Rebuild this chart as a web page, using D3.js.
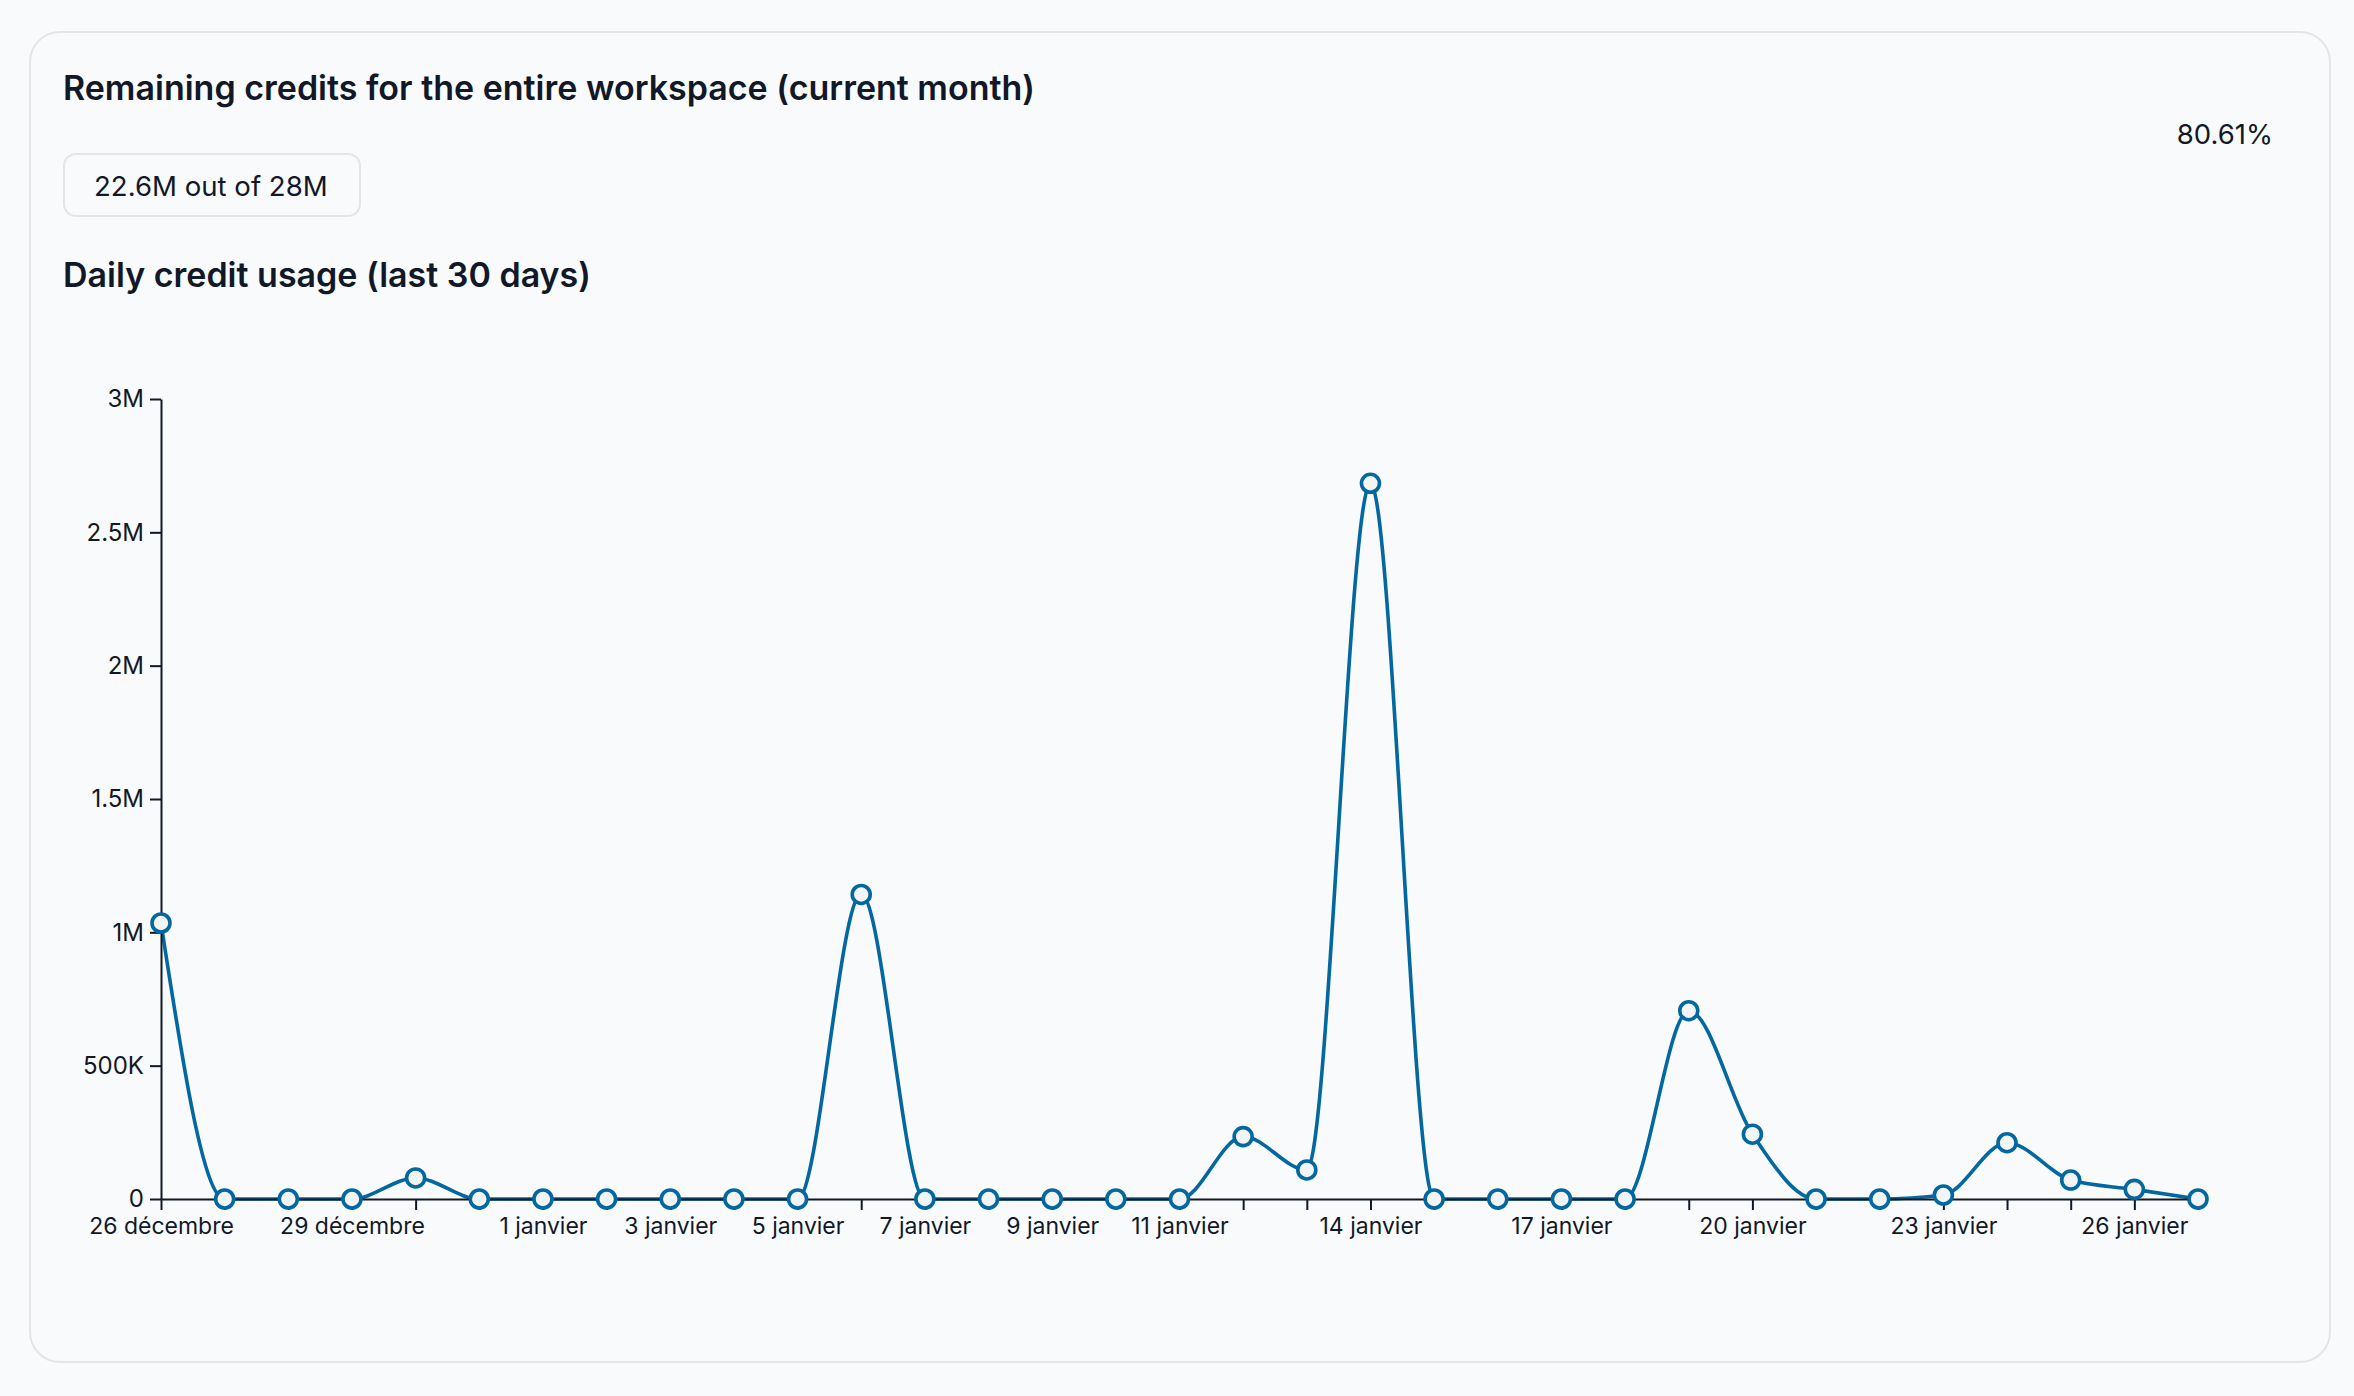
<!DOCTYPE html>
<html>
<head>
<meta charset="utf-8">
<script src="https://cdn.jsdelivr.net/npm/d3@7"></script>
<style>
	html, body { margin: 0; background: #f9fafb; }
	svg { display: block; font-family: Inter, 'Noto Sans', sans-serif; }
</style>
</head>
<body>
<svg id="chart" width="2354" height="1396"></svg>
<script>
'use strict'

// daily usage, 26 Dec -> 27 Jan
const days = [
	'2024-12-26', '2024-12-27', '2024-12-28', '2024-12-29', '2024-12-30', '2024-12-31',
	'2025-01-01', '2025-01-02', '2025-01-03', '2025-01-04', '2025-01-05', '2025-01-06',
	'2025-01-07', '2025-01-08', '2025-01-09', '2025-01-10', '2025-01-11', '2025-01-12',
	'2025-01-13', '2025-01-14', '2025-01-15', '2025-01-16', '2025-01-17', '2025-01-18',
	'2025-01-19', '2025-01-20', '2025-01-21', '2025-01-22', '2025-01-23', '2025-01-24',
	'2025-01-25', '2025-01-26', '2025-01-27'
]
const credits = [
	1035000, 0, 0, 0, 79000, 0,
	0, 0, 0, 0, 0, 1142000,
	0, 0, 0, 0, 0, 234000,
	109000, 2684000, 0, 0, 0, 0,
	706000, 243000, 0, 0, 15000, 211000,
	71000, 36000, 0
]
const labelDays = [
	'2024-12-26', '2024-12-29', '2025-01-01', '2025-01-03', '2025-01-05', '2025-01-07',
	'2025-01-09', '2025-01-11', '2025-01-14', '2025-01-17', '2025-01-20', '2025-01-23',
	'2025-01-26'
]
const yTicks = [0, 500000, 1000000, 1500000, 2000000, 2500000, 3000000]

const titleText = 'Remaining credits for the entire workspace (current month)'
const usedText = '22.6M out of 28M'
const percentText = '80.61%'
const subtitleText = 'Daily credit usage (last 30 days)'

const ink = '#111827'
const blue = '#03689f'

const fr = d3.timeFormatLocale({
	dateTime: '%A %e %B %Y à %X',
	date: '%d/%m/%Y',
	time: '%H:%M:%S',
	periods: ['AM', 'PM'],
	days: ['dimanche', 'lundi', 'mardi', 'mercredi', 'jeudi', 'vendredi', 'samedi'],
	shortDays: ['dim.', 'lun.', 'mar.', 'mer.', 'jeu.', 'ven.', 'sam.'],
	months: ['janvier', 'février', 'mars', 'avril', 'mai', 'juin', 'juillet', 'août', 'septembre', 'octobre', 'novembre', 'décembre'],
	shortMonths: ['janv.', 'févr.', 'mars', 'avr.', 'mai', 'juin', 'juil.', 'août', 'sept.', 'oct.', 'nov.', 'déc.']
})
const parse = d3.utcParse('%Y-%m-%d')
const fmtDay = fr.utcFormat('%-d %B')

const data = days.map((d, i) => ({date: parse(d), value: credits[i]}))
const labelSet = new Set(labelDays.map(d => +parse(d)))

const svg = d3.select('#chart')

// card
svg.append('rect')
	.attr('x', 30).attr('y', 32)
	.attr('width', 2300).attr('height', 1330)
	.attr('rx', 30)
	.attr('fill', '#f9fafb')
	.attr('stroke', '#e3e5ea')
	.attr('stroke-width', 2)

svg.append('text')
	.attr('x', 63).attr('y', 100)
	.attr('font-size', 34).attr('font-weight', 600)
	.attr('fill', ink)
	.text(titleText)

svg.append('rect')
	.attr('x', 64).attr('y', 154)
	.attr('width', 296).attr('height', 62)
	.attr('rx', 12)
	.attr('fill', '#f9fafb')
	.attr('stroke', '#e3e5ea')
	.attr('stroke-width', 2)

svg.append('text')
	.attr('x', 94).attr('y', 196)
	.attr('font-size', 27.6)
	.attr('fill', ink)
	.text(usedText)

svg.append('text')
	.attr('x', 2273).attr('y', 144)
	.attr('text-anchor', 'end')
	.attr('font-size', 27.5)
	.attr('fill', ink)
	.text(percentText)

svg.append('text')
	.attr('x', 63).attr('y', 287)
	.attr('font-size', 34).attr('font-weight', 600)
	.attr('fill', ink)
	.text(subtitleText)

// plot
const margin = {left: 161, top: 399}
const width = 2037
const height = 800

const x = d3.scaleUtc()
	.domain(d3.extent(data, d => d.date))
	.range([0, width])
const y = d3.scaleLinear()
	.domain([0, 3000000])
	.range([height, 0])

const fmtCredits = (v) => {
	if (v === 0) return '0'
	if (v >= 1e6) return `${v / 1e6}M`
	return `${v / 1e3}K`
}

const plot = svg.append('g')
	.attr('transform', `translate(${margin.left}, ${margin.top})`)

const line = d3.line()
	.x(d => x(d.date))
	.y(d => y(d.value))
	.curve(d3.curveMonotoneX)

plot.append('path')
	.datum(data)
	.attr('fill', 'none')
	.attr('stroke', blue)
	.attr('stroke-width', 3.6)
	.attr('d', line)

const xAxis = plot.append('g')
	.attr('transform', `translate(0, ${height})`)
	.attr('color', ink)
	.call(d3.axisBottom(x)
		.tickValues(data.map(d => d.date))
		.tickSize(11)
		.tickSizeOuter(0)
		.tickPadding(8)
		.tickFormat(d => labelSet.has(+d) ? fmtDay(d) : ''))

const yAxis = plot.append('g')
	.attr('color', ink)
	.call(d3.axisLeft(y)
		.tickValues(yTicks)
		.tickSize(11)
		.tickSizeOuter(0)
		.tickPadding(6)
		.tickFormat(fmtCredits))

xAxis.selectAll('text').attr('font-size', 23).attr('font-family', 'Inter, sans-serif')
yAxis.selectAll('text').attr('font-size', 24).attr('font-family', 'Inter, sans-serif')
svg.selectAll('.domain, .tick line').attr('stroke-width', 2)

plot.selectAll('.dot')
	.data(data)
	.enter()
	.append('circle')
	.attr('class', 'dot')
	.attr('cx', d => x(d.date))
	.attr('cy', d => y(d.value))
	.attr('r', 9)
	.attr('fill', '#f3f4f6')
	.attr('stroke', blue)
	.attr('stroke-width', 3.6)
</script>
</body>
</html>
